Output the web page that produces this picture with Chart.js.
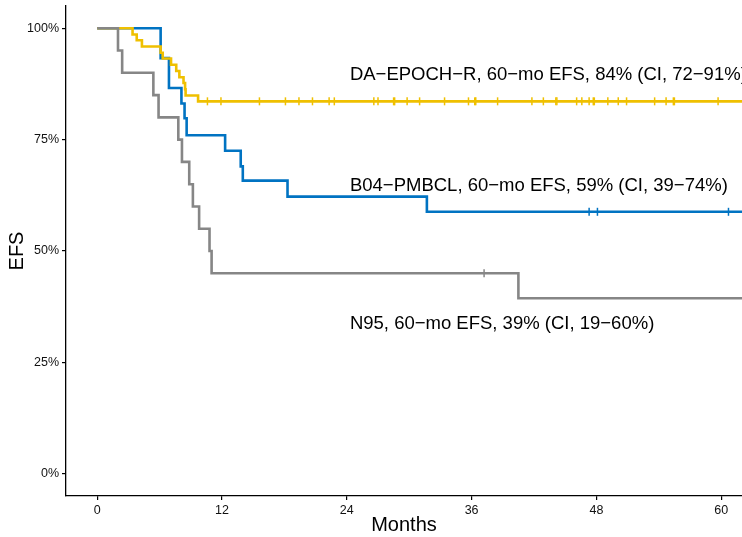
<!DOCTYPE html>
<html><head><meta charset="utf-8">
<script src="https://cdn.jsdelivr.net/npm/chart.js@4.4.0/dist/chart.umd.min.js"></script>
<style>html,body{margin:0;padding:0;background:#fff;}#wrap{width:742px;height:537px;}</style>
</head><body><div id="wrap"><canvas id="c" width="742" height="537"></canvas></div>
<script>
// ---- data ----
const xTicks = [0, 12, 24, 36, 48, 60];
const yTicks = [0, 25, 50, 75, 100];
const epochTimes = [0, 3.4, 3.8, 4.3, 6.1, 6.3, 7.1, 7.6, 7.9, 8.3, 8.45, 8.5, 9.7];
const epochSurv  = [100, 98.6, 97.3, 95.9, 94.5, 93.2, 91.8, 90.4, 89.0, 87.7, 86.3, 84.9, 83.6];
const epochCensor = [10.6, 11.9, 15.6, 18.1, 19.4, 20.7, 22.3, 22.8, 26.6, 27.0, 28.5, 28.6, 29.8, 31.0, 33.4, 35.7, 36.3, 36.4, 38.5, 41.8, 42.9, 44.1, 44.2, 46.1, 46.6, 47.3, 47.7, 47.8, 49.1, 50.1, 50.9, 53.6, 54.7, 55.4, 55.5, 59.7];
const b04Times = [0, 6.1, 6.9, 8.1, 8.4, 8.6, 12.3, 13.8, 14.0, 18.3, 31.7];
const b04Surv  = [100, 93.3, 86.6, 83.1, 79.8, 76.0, 72.5, 69.0, 65.8, 62.2, 58.8];
const b04Censor = [47.3, 48.1, 60.7];
const n95Times = [0, 2.0, 2.4, 5.4, 5.9, 7.8, 8.15, 8.85, 9.2, 9.8, 10.8, 11.0, 40.5];
const n95Surv  = [100, 95, 90, 85, 80, 75, 70, 65, 60, 55, 50, 45, 39.4];
const n95Censor = [37.2];
const followUpEnd = 62;
const labels = [
  {text: 'DA\u2212EPOCH\u2212R, 60\u2212mo EFS, 84% (CI, 72\u221291%)', x: 24.3, y: 89.6},
  {text: 'B04\u2212PMBCL, 60\u2212mo EFS, 59% (CI, 39\u221274%)', x: 24.3, y: 64.7},
  {text: 'N95, 60\u2212mo EFS, 39% (CI, 19\u221260%)', x: 24.3, y: 33.6}
];

const colEpoch = '#EFC000', colB04 = '#0073C2', colN95 = '#868686';

function stepPoints(times, surv, end) {
  const pts = times.map((t, i) => ({x: t, y: surv[i]}));
  pts.push({x: end, y: surv[surv.length - 1]});
  return pts;
}
function survAt(times, surv, t) {
  let s = surv[0];
  for (let i = 0; i < times.length; i++) if (times[i] <= t) s = surv[i];
  return s;
}
function censorPoints(times, surv, cens) {
  return cens.map(t => ({x: t, y: survAt(times, surv, t)}));
}
function curve(data, color, order) {
  return {data, showLine: true, stepped: 'before', borderColor: color, borderWidth: 2.6,
          pointRadius: 0, fill: false, order, borderJoinStyle: 'miter'};
}
function ticks(data, color, order) {
  return {data, showLine: false, pointStyle: 'line', rotation: 90, pointRadius: 4,
          pointHoverRadius: 4, borderColor: color, backgroundColor: color, pointBorderWidth: 1.5, order};
}

const font = '"Liberation Sans", Arial, Helvetica, sans-serif';
const textPlugin = {
  id: 'txt',
  afterDatasetsDraw(chart) {
    const {ctx, scales: {x, y}} = chart;
    ctx.save();
    ctx.fillStyle = '#000';
    ctx.font = '18.5px ' + font;
    ctx.textBaseline = 'middle';
    ctx.textAlign = 'left';
    labels.forEach(l => ctx.fillText(l.text, x.getPixelForValue(l.x), y.getPixelForValue(l.y)));
    ctx.restore();
  }
};

function zeroPad(s) { s.paddingTop = 0; s.paddingBottom = 0; s.paddingLeft = 0; s.paddingRight = 0; }

new Chart(document.getElementById('c'), {
  type: 'scatter',
  data: {datasets: [
    curve(stepPoints(b04Times, b04Surv, followUpEnd), colB04, 2),
    ticks(censorPoints(b04Times, b04Surv, b04Censor), colB04, 2),
    curve(stepPoints(epochTimes, epochSurv, followUpEnd), colEpoch, 1),
    ticks(censorPoints(epochTimes, epochSurv, epochCensor), colEpoch, 1),
    curve(stepPoints(n95Times, n95Surv, followUpEnd), colN95, 0),
    ticks(censorPoints(n95Times, n95Surv, n95Censor), colN95, 0)
  ]},
  options: {
    responsive: false, animation: false, devicePixelRatio: 1,
    layout: {autoPadding: false, padding: {top: 6, right: 0, left: 0, bottom: 0}},
    plugins: {legend: {display: false}, tooltip: {enabled: false}},
    scales: {
      x: {
        type: 'linear', min: -3, max: 62,
        afterBuildTicks: s => { s.ticks = xTicks.map(v => ({value: v})); },
        afterFit: s => { s.height = 41; zeroPad(s); },
        grid: {display: true, drawOnChartArea: false, drawTicks: true, tickLength: 4, color: '#000', lineWidth: 1.2},
        border: {display: true, color: '#000', width: 1.3},
        ticks: {font: {family: font, size: 12.5}, color: '#111', padding: 3, maxRotation: 0},
        title: {display: true, text: 'Months', font: {family: font, size: 20}, color: '#000', padding: {top: 0, bottom: 0}}
      },
      y: {
        type: 'linear', min: -5, max: 105,
        afterBuildTicks: s => { s.ticks = yTicks.map(v => ({value: v})); },
        afterFit: s => { s.width = 66; zeroPad(s); },
        grid: {display: true, drawOnChartArea: false, drawTicks: true, tickLength: 4, color: '#000', lineWidth: 1.2},
        border: {display: true, color: '#000', width: 1.3},
        ticks: {font: {family: font, size: 12.5}, color: '#111', padding: 3, callback: v => v + '%'},
        title: {display: true, text: 'EFS', font: {family: font, size: 20}, color: '#000', padding: {top: 5, bottom: 0}}
      }
    }
  },
  plugins: [textPlugin]
});
</script></body></html>
